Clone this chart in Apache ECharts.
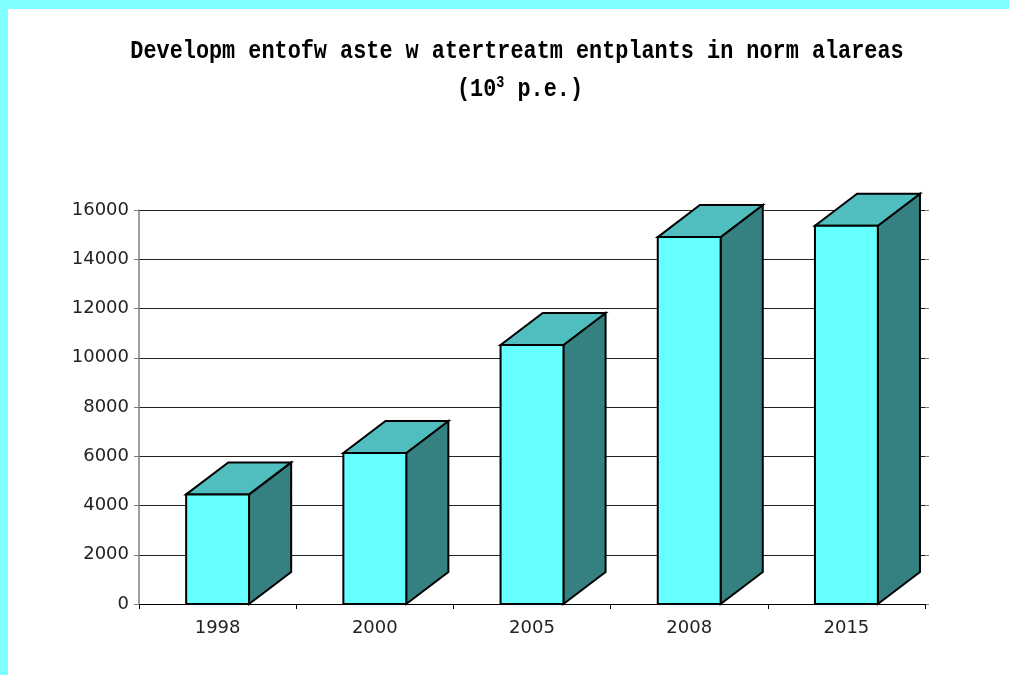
<!DOCTYPE html>
<html>
<head>
<meta charset="utf-8">
<script src="https://cdn.jsdelivr.net/npm/echarts@6/dist/echarts.min.js"></script>
<style>
html,body{margin:0;padding:0;background:#fff;}
#c{width:1009px;height:675px;}
</style>
</head>
<body>
<div id="c"></div>
<script>
const categories = ['1998', '2000', '2005', '2008', '2015'];
const values = [4450, 6130, 10520, 14900, 15360];
const yTicks = { min: 0, max: 16000, interval: 2000 };
const titleLine1 = 'Developm entofw aste w atertreatm entplants in norm alareas';
const titleLine2 = '(10{sup|3} p.e.)';

const chart = echarts.init(document.getElementById('c'), null, { renderer: 'canvas' });

function renderBar(params, api) {
  const idx = api.value(0);
  const val = api.value(1);
  const top = api.coord([idx, val]);
  const base = api.coord([idx, 0]);
  const bw = api.size([1, 0])[0];
  const fw = bw * 0.40;
  const dx = bw * 0.268;
  const dy = dx * 0.76;
  const x0 = top[0] - fw / 2, x1 = top[0] + fw / 2;
  const yt = top[1], yb = base[1];
  const stroke = { stroke: '#000', lineWidth: 2, lineJoin: 'miter' };
  return {
    type: 'group',
    children: [
      { type: 'polygon', shape: { points: [[x1, yb], [x1 + dx, yb - dy], [x1 + dx, yt - dy], [x1, yt]] },
        style: Object.assign({ fill: '#358181' }, stroke) },
      { type: 'polygon', shape: { points: [[x0, yt], [x0 + dx, yt - dy], [x1 + dx, yt - dy], [x1, yt]] },
        style: Object.assign({ fill: '#50bebe' }, stroke) },
      { type: 'rect', shape: { x: x0, y: yt, width: fw, height: yb - yt },
        style: Object.assign({ fill: '#66ffff' }, stroke) }
    ]
  };
}

const option = {
  backgroundColor: '#ffffff',
  animation: false,
  graphic: [
    { type: 'rect', left: 0, top: 0, shape: { width: 1009, height: 9 }, style: { fill: '#80ffff' }, z: 10 },
    { type: 'rect', left: 0, top: 0, shape: { width: 8, height: 675 }, style: { fill: '#80ffff' }, z: 10 },
    { type: 'text', x: 517, y: 51, scaleX: 0.84, z: 10,
      style: { text: titleLine1, font: 'bold 26px "Liberation Mono"', fill: '#000', textAlign: 'center', textVerticalAlign: 'middle' } },
    { type: 'text', x: 520, y: 89, scaleX: 0.84, z: 10,
      style: { text: titleLine2, font: 'bold 26px "Liberation Mono"', fill: '#000', textAlign: 'center', textVerticalAlign: 'middle',
        rich: { sup: { font: 'bold 16px "Liberation Mono"', fill: '#000', verticalAlign: 'top', padding: [0, 0, 12, 0] } } } }
  ],
  grid: { left: 139, right: 84, top: 210, bottom: 71, containLabel: false },
  xAxis: {
    type: 'category',
    data: categories,
    boundaryGap: true,
    axisLine: { lineStyle: { color: '#000', width: 1 } },
    axisTick: { show: true, alignWithLabel: false, length: 5, lineStyle: { color: '#000' } },
    axisLabel: { color: '#222', fontFamily: 'DejaVu Sans', fontSize: 18, margin: 15 }
  },
  yAxis: [{
    type: 'value',
    min: yTicks.min, max: yTicks.max, interval: yTicks.interval,
    axisLine: { show: true, lineStyle: { color: '#808080', width: 1.5 } },
    axisTick: { show: true, length: 5, lineStyle: { color: '#808080' } },
    axisLabel: { color: '#222', fontFamily: 'DejaVu Sans', fontSize: 18, margin: 10, formatter: v => String(v) },
    splitLine: { show: true, lineStyle: { color: '#222', width: 1 } }
  }, {
    type: 'value', position: 'right',
    min: yTicks.min, max: yTicks.max, interval: yTicks.interval,
    axisLine: { show: false },
    axisTick: { show: true, length: 4, lineStyle: { color: '#808080' } },
    axisLabel: { show: false },
    splitLine: { show: false }
  }],
  series: [{
    type: 'custom',
    renderItem: renderBar,
    data: values.map((v, i) => [i, v]),
    encode: { x: 0, y: 1 },
    clip: false
  }]
};
chart.setOption(option);
</script>
</body>
</html>
